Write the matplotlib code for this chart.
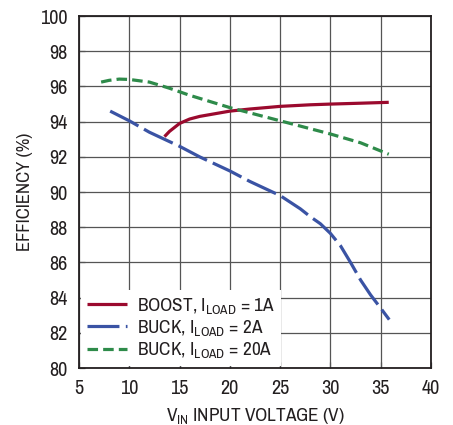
import numpy as np
import matplotlib
matplotlib.use('Agg')
import matplotlib.pyplot as plt

plt.rcParams['font.family'] = ['Archivo Narrow', 'Liberation Sans Narrow', 'Liberation Sans', 'DejaVu Sans']
plt.rcParams['mathtext.default'] = 'regular'

# Data
boost_v = [13.5, 14, 15, 16, 17, 18, 20, 22, 25, 28, 30, 33, 35.8]
boost_eff = [93.15, 93.45, 93.9, 94.15, 94.3, 94.4, 94.6, 94.72, 94.87, 94.96, 95.0, 95.05, 95.1]

buck2_v = [8.1, 10, 12, 15, 17, 20, 22, 25, 27, 28, 29, 30, 31, 32, 33, 34, 35, 35.85]
buck2_eff = [94.6, 94.05, 93.4, 92.6, 92.0, 91.2, 90.6, 89.8, 89.05, 88.6, 88.2, 87.65, 86.95, 86.0, 85.0, 84.15, 83.4, 82.75]

buck20_v = [7.2, 8, 9, 10, 12, 14, 16, 18, 20, 22, 25, 28, 30, 33, 35.8]
buck20_eff = [96.25, 96.35, 96.42, 96.4, 96.25, 95.9, 95.5, 95.15, 94.8, 94.5, 94.05, 93.6, 93.3, 92.8, 92.15]

x_ticks = [5, 10, 15, 20, 25, 30, 35, 40]
y_ticks = [80, 82, 84, 86, 88, 90, 92, 94, 96, 98, 100]

fig = plt.figure(figsize=(4.53, 4.25), dpi=100)
ax = fig.add_axes([0.1744, 0.1341, 0.777, 0.828])

ax.plot(boost_v, boost_eff, color='#9b0a2e', lw=2.3, solid_capstyle='butt',
        label='BOOST, I$_{LOAD}$ = 1A')
ax.plot(buck2_v, buck2_eff, color='#3a53a4', lw=2.3, dashes=(10, 2),
        label='BUCK, I$_{LOAD}$ = 2A')
ax.plot(buck20_v, buck20_eff, color='#2e8b4a', lw=2.3, dashes=(3.3, 1.6),
        label='BUCK, I$_{LOAD}$ = 20A')

ax.set_xlim(5, 40)
ax.set_ylim(80, 100)
ax.set_xticks(x_ticks)
ax.set_yticks(y_ticks)
ax.grid(True, color='#555555', lw=0.9)
ax.set_axisbelow(True)
ax.tick_params(direction='in', length=4, width=0.9, color='#555555',
               labelsize=14.5, colors='#231f20', pad=8)
for s in ax.spines.values():
    s.set_linewidth(1.3)
    s.set_color('#231f20')

ax.set_xlabel('V$_{IN}$ INPUT VOLTAGE (V)', fontsize=13.8, color='#231f20', labelpad=6)
ax.set_ylabel('EFFICIENCY (%)', fontsize=13.5, color='#231f20', labelpad=5)

leg = ax.legend(loc='lower left', fontsize=13.8,
                frameon=True, fancybox=False, framealpha=1, edgecolor='none',
                handlelength=2.1, handletextpad=0.55, labelspacing=0.12,
                borderpad=0.3, borderaxespad=0.1)
for t in leg.get_texts():
    t.set_color('#231f20')

plt.savefig('out.png', dpi=100)
